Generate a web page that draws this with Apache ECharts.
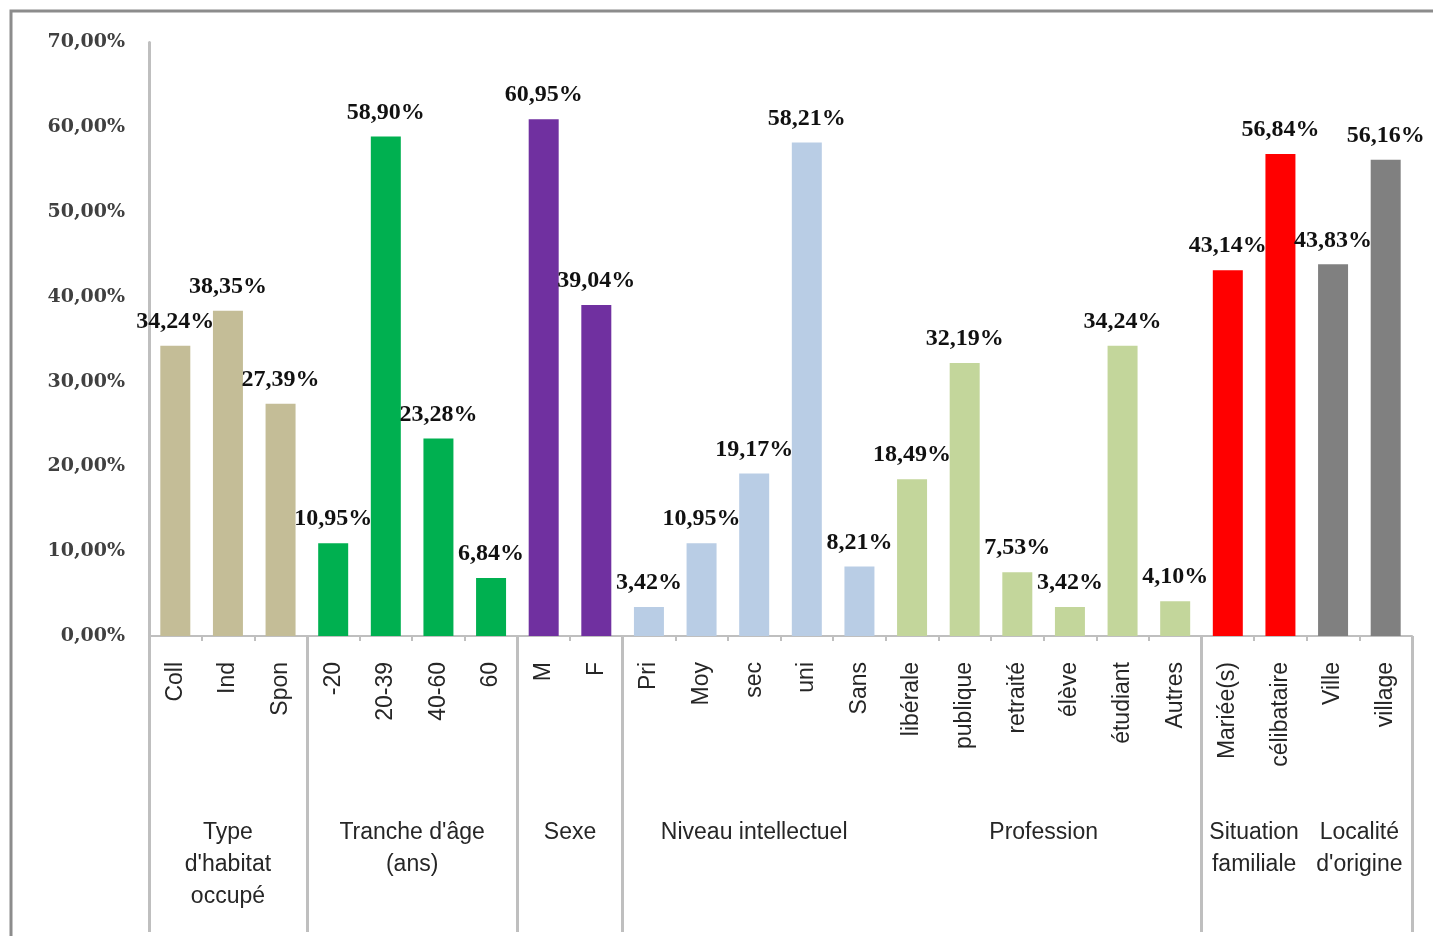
<!DOCTYPE html>
<html>
<head>
<meta charset="utf-8">
<script src="https://cdn.jsdelivr.net/npm/echarts@6/dist/echarts.min.js"></script>
<style>
html,body{margin:0;padding:0;background:#fff;}
#chart{width:1433px;height:936px;}
</style>
</head>
<body>
<div id="chart"></div>
<script>
// ---- data ----
const categories = ['Coll','Ind','Spon','-20','20-39','40-60','60','M','F','Pri','Moy','sec','uni','Sans','libérale','publique','retraité','élève','étudiant','Autres','Mariée(s)','célibataire','Ville','village'];
const values = [34.24,38.35,27.39,10.95,58.90,23.28,6.84,60.95,39.04,3.42,10.95,19.17,58.21,8.21,18.49,32.19,7.53,3.42,34.24,4.10,43.14,56.84,43.83,56.16];
const groupNames = ["Type\nd'habitat\noccupé","Tranche d'âge\n(ans)","Sexe","Niveau intellectuel","Profession","Situation\nfamiliale","Localité\nd'origine"];
const groupSizes = [3,4,2,5,6,2,2];
const groupColors = ['#c4bd97','#00b050','#7030a0','#b9cde5','#c3d69b','#ff0000','#808080'];
const separatorAfterGroup = [true,true,true,false,true,false,true]; // long divider lines
const yTicks = [0,10,20,30,40,50,60,70];

// ---- build ----
const barData = [];
const groupAxisData = new Array(categories.length*2+1).fill('');
const sepIdx = [0];
let start = 0;
groupSizes.forEach((n,g)=>{
  for(let k=0;k<n;k++){
    barData.push({value: values[start+k], itemStyle:{color: groupColors[g]}});
  }
  groupAxisData[2*start+n] = groupNames[g];
  start += n;
  if(separatorAfterGroup[g]) sepIdx.push(2*start);
});

const chart = echarts.init(document.getElementById('chart'));
const fmtPct = v => v.toFixed(2).replace('.',',') + '%';

chart.setOption({
  animation:false,
  backgroundColor:'#fff',
  graphic:[{
    type:'polyline', shape:{points:[[11,936],[11,11],[1433,11]]},
    style:{stroke:'#8c8c8c', lineWidth:3, fill:null}, silent:true
  }],
  grid:{left:149,right:21,top:42.4,bottom:300,containLabel:false},
  xAxis:[{
    type:'category', data:categories, position:'bottom',
    axisLine:{lineStyle:{color:'#bfbfbf',width:2}},
    axisTick:{show:true,length:5,lineStyle:{color:'#bfbfbf',width:2}},
    axisLabel:{rotate:90,interval:0,margin:26,color:'#262626',
      fontFamily:'"Liberation Sans Narrow","Arial Narrow","Liberation Sans",sans-serif',fontSize:23}
  },{
    type:'category', data:groupAxisData, position:'bottom', boundaryGap:false,
    axisLine:{show:false},
    axisTick:{show:true,length:296,interval:(i)=>sepIdx.indexOf(i)>=0,
      lineStyle:{color:'#bfbfbf',width:3}},
    axisLabel:{interval:0,margin:181,color:'#262626',align:'center',lineHeight:32,
      fontFamily:'"Liberation Sans Narrow","Arial Narrow","Liberation Sans",sans-serif',fontSize:23}
  }],
  yAxis:{
    type:'value', min:yTicks[0], max:yTicks[yTicks.length-1], interval:10,
    axisLine:{show:true,lineStyle:{color:'#bfbfbf',width:3}},
    axisTick:{show:false},
    splitLine:{show:false},
    axisLabel:{formatter:fmtPct,margin:24,color:'#404040',
      fontFamily:'"DejaVu Serif",serif',fontWeight:'bold',fontSize:19}
  },
  series:[{
    type:'bar', xAxisIndex:0, data:barData, barWidth:'57%',
    label:{show:true,position:'top',distance:12,formatter:p=>fmtPct(p.value),
      color:'#111',fontFamily:'"Liberation Serif","Times New Roman",serif',fontWeight:'bold',fontSize:24}
  }]
});
</script>
</body>
</html>
